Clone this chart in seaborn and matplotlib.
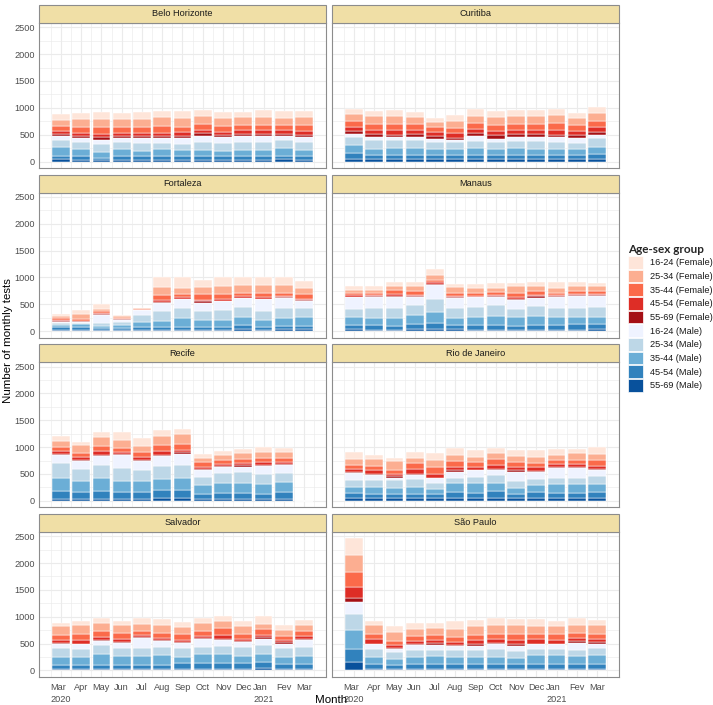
import matplotlib
matplotlib.use('Agg')
import matplotlib.pyplot as plt
from matplotlib.patches import Patch, Rectangle
from matplotlib.ticker import FixedLocator, MultipleLocator
import numpy as np
import pandas as pd
import seaborn as sns

months = ["Mar\n2020", "Apr", "May", "Jun", "Jul", "Aug", "Sep", "Oct",
          "Nov", "Dec", "Jan\n2021", "Fev", "Mar"]

# stacking order, bottom -> top
groups = ["55-69 (Male)", "45-54 (Male)", "35-44 (Male)", "25-34 (Male)", "16-24 (Male)",
          "55-69 (Female)", "45-54 (Female)", "35-44 (Female)", "25-34 (Female)", "16-24 (Female)"]
colours = ["#08519C", "#3182BD", "#6BAED6", "#BDD7E7", "#EFF3FF",
           "#A50F15", "#DE2D26", "#FB6A4A", "#FCAE91", "#FEE5D9"]

cities = ["Belo Horizonte", "Curitiba", "Fortaleza", "Manaus",
          "Recife", "Rio de Janeiro", "Salvador", "São Paulo"]

# one row per month, values in the order of `groups`
belo_horizonte = [
    [40, 64, 158, 146, 74, 30, 60, 90, 120, 100],
    [35, 60, 143, 122, 73, 35, 70, 110, 150, 110],
    [25, 42, 104, 152, 85, 40, 70, 120, 160, 122],
    [35, 70, 121, 146, 67, 30, 70, 110, 140, 113],
    [35, 60, 100, 153, 91, 30, 70, 110, 150, 116],
    [35, 70, 121, 122, 85, 35, 70, 120, 170, 111],
    [35, 65, 107, 128, 98, 40, 70, 100, 160, 136],
    [30, 65, 110, 155, 122, 40, 70, 110, 140, 115],
    [35, 65, 100, 150, 101, 35, 70, 110, 140, 114],
    [35, 65, 107, 160, 103, 40, 70, 100, 140, 100],
    [35, 65, 110, 160, 100, 40, 70, 100, 150, 121],
    [40, 70, 134, 164, 74, 30, 70, 100, 130, 127],
    [35, 65, 120, 140, 97, 40, 80, 100, 150, 106],
]
curitiba = [
    [45, 120, 146, 140, 61, 50, 90, 110, 120, 88],
    [45, 85, 110, 168, 55, 50, 80, 110, 140, 90],
    [45, 85, 120, 158, 43, 50, 80, 110, 150, 110],
    [45, 85, 120, 146, 67, 50, 80, 100, 140, 94],
    [40, 80, 106, 146, 55, 50, 70, 90, 90, 84],
    [40, 80, 106, 134, 42, 40, 80, 100, 130, 108],
    [45, 85, 120, 140, 92, 40, 80, 110, 140, 118],
    [40, 85, 101, 134, 67, 60, 80, 110, 150, 106],
    [45, 85, 120, 134, 79, 50, 80, 110, 140, 108],
    [45, 85, 110, 144, 79, 50, 80, 110, 150, 98],
    [45, 85, 96, 146, 79, 50, 90, 120, 150, 115],
    [40, 80, 106, 122, 91, 50, 80, 110, 130, 99],
    [45, 90, 127, 171, 61, 50, 90, 120, 150, 110],
]
fortaleza = [
    [30, 43, 43, 30, 31, 12, 18, 30, 36, 38],
    [30, 43, 61, 25, 18, 6, 12, 31, 91, 79],
    [20, 30, 40, 60, 150, 15, 25, 35, 45, 86],
    [30, 37, 49, 61, 30, 10, 15, 20, 25, 22],
    [18, 62, 85, 134, 91, 5, 8, 10, 12, 14],
    [24, 49, 122, 183, 146, 19, 30, 92, 152, 183],
    [24, 61, 153, 195, 158, 15, 25, 70, 110, 189],
    [24, 55, 128, 171, 152, 25, 30, 98, 134, 134],
    [30, 55, 122, 183, 165, 12, 37, 91, 153, 152],
    [43, 73, 140, 195, 165, 10, 20, 64, 150, 140],
    [30, 55, 116, 171, 219, 15, 25, 77, 147, 145],
    [43, 61, 134, 195, 183, 12, 20, 60, 152, 140],
    [43, 61, 164, 165, 128, 18, 25, 79, 122, 134],
]
manaus = [
    [37, 79, 152, 153, 207, 12, 35, 40, 60, 60],
    [24, 92, 134, 183, 201, 12, 31, 36, 61, 61],
    [30, 74, 146, 189, 189, 18, 37, 91, 74, 61],
    [37, 91, 171, 183, 152, 12, 31, 73, 98, 73],
    [37, 122, 189, 256, 262, 12, 30, 49, 86, 122],
    [37, 79, 134, 183, 183, 12, 30, 55, 104, 61],
    [30, 86, 152, 183, 177, 10, 20, 55, 92, 73],
    [30, 86, 164, 202, 158, 10, 15, 61, 79, 85],
    [30, 74, 152, 165, 164, 19, 30, 79, 122, 61],
    [30, 86, 171, 183, 152, 24, 31, 79, 92, 61],
    [30, 86, 152, 165, 207, 10, 15, 48, 86, 122],
    [30, 98, 140, 165, 219, 13, 30, 55, 98, 61],
    [37, 97, 134, 183, 195, 19, 24, 61, 85, 61],
]
recife = [
    [37, 141, 251, 270, 159, 15, 46, 86, 110, 98],
    [37, 122, 209, 220, 147, 30, 44, 73, 160, 61],
    [37, 141, 239, 245, 171, 25, 61, 104, 166, 98],
    [37, 122, 209, 245, 233, 20, 35, 79, 160, 135],
    [37, 122, 209, 214, 153, 25, 49, 92, 128, 135],
    [49, 147, 208, 252, 183, 20, 60, 123, 171, 98],
    [49, 147, 233, 245, 196, 31, 43, 110, 184, 98],
    [37, 86, 177, 141, 135, 18, 43, 80, 80, 73],
    [37, 116, 178, 184, 122, 13, 36, 74, 98, 73],
    [37, 116, 178, 202, 104, 25, 37, 73, 110, 80],
    [37, 98, 184, 183, 148, 18, 49, 80, 104, 104],
    [37, 122, 190, 172, 141, 24, 31, 80, 104, 79],
    [None] * 10,
]
rio_de_janeiro = [
    [43, 104, 110, 135, 123, 20, 59, 80, 104, 123],
    [49, 86, 122, 135, 80, 30, 62, 92, 122, 80],
    [49, 74, 122, 135, 49, 24, 49, 74, 159, 62],
    [49, 86, 122, 147, 74, 24, 92, 105, 98, 104],
    [49, 74, 104, 110, 80, 12, 73, 123, 135, 122],
    [49, 123, 159, 98, 116, 19, 73, 98, 123, 122],
    [49, 104, 178, 110, 123, 12, 61, 80, 104, 123],
    [49, 135, 153, 135, 110, 18, 74, 98, 110, 98],
    [49, 86, 110, 123, 165, 31, 61, 92, 123, 104],
    [49, 110, 129, 122, 117, 24, 74, 74, 122, 123],
    [49, 104, 153, 123, 184, 12, 61, 74, 98, 104],
    [49, 104, 153, 123, 178, 18, 61, 74, 122, 80],
    [49, 110, 160, 134, 111, 30, 62, 104, 110, 123],
]
salvador = [
    [24, 80, 153, 165, 67, 24, 49, 104, 159, 61],
    [24, 80, 141, 152, 86, 12, 73, 110, 159, 86],
    [24, 80, 196, 171, 73, 18, 55, 110, 159, 98],
    [24, 80, 159, 147, 103, 20, 60, 110, 147, 73],
    [24, 80, 159, 159, 183, 18, 31, 86, 128, 104],
    [24, 80, 183, 153, 110, 18, 43, 92, 147, 110],
    [30, 104, 123, 165, 91, 19, 30, 123, 122, 92],
    [30, 104, 166, 140, 147, 18, 37, 98, 146, 98],
    [30, 104, 166, 158, 117, 18, 73, 123, 122, 98],
    [30, 104, 141, 165, 80, 24, 49, 92, 140, 104],
    [43, 122, 141, 165, 122, 30, 43, 110, 92, 141],
    [30, 86, 141, 165, 79, 19, 42, 80, 116, 92],
    [30, 98, 147, 159, 128, 31, 43, 97, 104, 104],
]
sao_paulo = [
    [153, 244, 349, 305, 226, 80, 202, 269, 324, 305],
    [31, 85, 129, 146, 92, 18, 92, 92, 152, 74],
    [31, 73, 110, 134, 43, 19, 61, 79, 165, 110],
    [31, 97, 117, 128, 92, 18, 61, 98, 134, 110],
    [31, 97, 147, 104, 92, 37, 54, 104, 123, 97],
    [31, 97, 129, 116, 79, 20, 60, 98, 146, 135],
    [31, 97, 129, 122, 79, 31, 73, 104, 159, 116],
    [31, 97, 129, 140, 92, 18, 74, 104, 165, 122],
    [31, 85, 110, 135, 97, 31, 86, 110, 152, 123],
    [31, 97, 159, 104, 92, 12, 98, 92, 140, 135],
    [31, 97, 159, 110, 86, 12, 67, 116, 147, 104],
    [31, 97, 141, 110, 134, 31, 61, 92, 140, 147],
    [31, 97, 159, 135, 79, 19, 73, 92, 165, 91],
]

tables = [belo_horizonte, curitiba, fortaleza, manaus,
          recife, rio_de_janeiro, salvador, sao_paulo]

rows = []
for city, table in zip(cities, tables):
    for m, vals in enumerate(table):
        for grp, v in zip(groups, vals):
            rows.append((city, m, grp, v))
df = pd.DataFrame(rows, columns=['city', 'month', 'group', 'tests'])
df['tests'] = df['tests'].astype(float)

sns.set_theme(style='whitegrid')
plt.rcParams['font.family'] = ['Liberation Sans', 'DejaVu Sans']

grid_col = '#EBEBEB'
border_col = '#8C8C8C'
small = 6.6
big = 8.25


def stacked_bars(data, color=None, **kws):
    ax = plt.gca()
    wide = data.pivot(index='month', columns='group', values='tests').reindex(columns=groups).fillna(0)
    bottom = np.zeros(len(wide))
    for grp, col in zip(groups, colours):
        ax.bar(wide.index, wide[grp].values, bottom=bottom, width=0.87,
               color=col, edgecolor='white', linewidth=0.35, zorder=2)
        bottom += wide[grp].values


g = sns.FacetGrid(df, col='city', col_wrap=2, col_order=cities,
                  height=1.8, aspect=2.0, sharex=True, sharey=True, despine=False)
g.map_dataframe(stacked_bars)
g.set_titles('')
g.set_axis_labels('', '')

fig = g.figure
fig.set_size_inches(7.13, 7.05)
fig.subplots_adjust(left=39 / 713, right=619 / 713, top=1 - 23 / 705, bottom=1 - 677 / 705,
                    wspace=0.021, hspace=0.169)

for ax, city in zip(g.axes.flat, cities):
    ax.set_xlim(-1.08, 13.08)
    ax.set_ylim(-123, 2580)
    ax.set_xticks(range(len(months)))
    ax.xaxis.set_minor_locator(FixedLocator(np.arange(-0.5, 12.6, 1)))
    ax.set_yticks([0, 500, 1000, 1500, 2000, 2500])
    ax.yaxis.set_minor_locator(MultipleLocator(250))
    ax.grid(which='major', color=grid_col, linewidth=0.8, zorder=0)
    ax.grid(which='minor', color=grid_col, linewidth=0.45, zorder=0)
    ax.set_axisbelow(True)
    ax.tick_params(which='major', length=2.0, width=0.6, color='#333333',
                   labelsize=small, labelcolor='#4D4D4D', pad=1.0)
    ax.tick_params(which='minor', length=0)
    for sp in ax.spines.values():
        sp.set_color(border_col)
        sp.set_linewidth(0.8)
    strip_h = 18 / 145
    ax.add_patch(Rectangle((0, 1), 1, strip_h, transform=ax.transAxes, facecolor='#F0DFA6',
                           edgecolor=border_col, linewidth=0.8, clip_on=False, zorder=5))
    ax.text(0.5, 1 + strip_h / 2, city, transform=ax.transAxes, ha='center', va='center',
            fontsize=small, color='#1A1A1A', zorder=6)

for ax in g.axes.flat[-2:]:
    ax.set_xticklabels(months, linespacing=1.45)
    ax.tick_params(axis='x', pad=2.5)
    for lab in ax.get_xticklabels():
        lab.set_multialignment('left')

fig.text(8 / 713, 1 - 341 / 705, 'Number of monthly tests', rotation=90,
         ha='center', va='center', fontsize=big, color='black')
fig.text(331 / 713, 1 - 700 / 705, 'Month', ha='center', va='center',
         fontsize=big, color='black')

handles = [Patch(facecolor=c, edgecolor='white', linewidth=0.5) for c in colours[::-1]]
leg = fig.legend(handles, groups[::-1], loc='upper left', bbox_to_anchor=(628 / 713, 1 - 244 / 705),
                 frameon=False, title='Age-sex group', fontsize=small,
                 handlelength=1.64, handleheight=1.75, labelspacing=0.11,
                 handletextpad=0.76, alignment='left', borderpad=0, borderaxespad=0,
                 title_fontproperties={'weight': 'bold', 'size': 8.5, 'family': 'Lato'})
for t in leg.get_texts():
    t.set_color('#1A1A1A')

fig.savefig('out.png', dpi=100)
